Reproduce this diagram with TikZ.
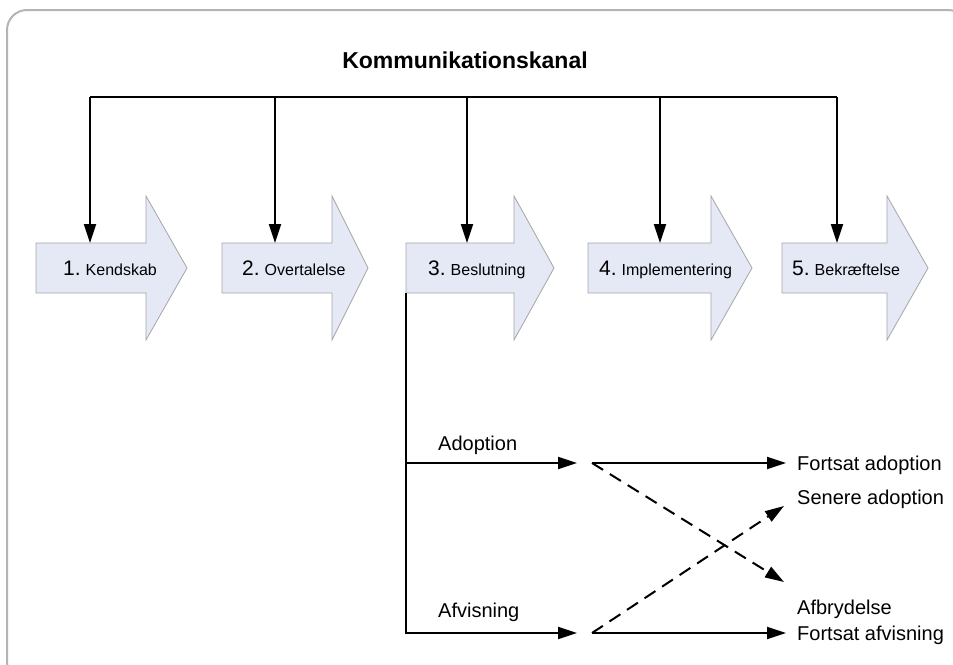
\documentclass[tikz,border=0pt]{standalone}
\usepackage{fontspec}
\setmainfont{Liberation Sans}
\usetikzlibrary{arrows.meta}

\definecolor{stagefill}{HTML}{E4E9F5}
\definecolor{stageline}{HTML}{A6A6A6}
\definecolor{framegray}{HTML}{B4B4B4}

% one stage arrow: left x, head base x, tip x (shaft 243..293, head 196..340)
\newcommand{\stageshape}[3]{%
  \filldraw[stagebody] (#1,243) -- (#2,243) -- (#2,196) -- (#3,268)
    -- (#2,340) -- (#2,293) -- (#1,293) -- cycle;}

\tikzset{
  stagebody/.style={fill=stagefill, draw=stageline, line width=0.8pt},
  stagelabel/.style={anchor=base west, inner sep=0pt, font=\fontsize{16}{16}\selectfont},
  outcome/.style={anchor=base west, inner sep=0pt, font=\fontsize{20}{20}\selectfont},
  choice/.style={anchor=base west, inner sep=0pt, font=\fontsize{20}{20}\selectfont},
  wire/.style={line width=2pt, black},
  feed/.style={wire, -{Triangle[length=19pt, width=12pt]}},
  dashfeed/.style={feed, dash pattern=on 13pt off 8pt},
}
\newcommand{\num}[1]{{\fontsize{21}{21}\selectfont #1}\hspace{5pt}}

\begin{document}
\begin{tikzpicture}[x=1pt, y=-1pt]
  \useasboundingbox (0,0) rectangle (953,664);
  \fill[white] (0,0) rectangle (953,664);

  % outer panel
  \draw[framegray, line width=2pt, rounded corners=20pt] (7,10) rectangle (968,682);

  % title
  \node[inner sep=0pt, font=\bfseries\fontsize{23}{23}\selectfont] (title) at (465,60) {Kommunikationskanal};

  % stage arrows
  \stageshape{36}{146}{187}
  \stageshape{222}{332}{368}
  \stageshape{406}{514}{554}
  \stageshape{588}{711}{752}
  \stageshape{782}{887}{928}

  \node[stagelabel] (s1) at (63,275)  {\num{1.}Kendskab};
  \node[stagelabel] (s2) at (242,275) {\num{2.}Overtalelse};
  \node[stagelabel] (s3) at (428,275) {\num{3.}Beslutning};
  \node[stagelabel] (s4) at (599,275) {\num{4.}Implementering};
  \node[stagelabel] (s5) at (792,275) {\num{5.}Bekræftelse};

  % channel bus and its drops
  \coordinate (k1) at (90,97);
  \coordinate (k2) at (275,97);
  \coordinate (k3) at (467,97);
  \coordinate (k4) at (660,97);
  \coordinate (k5) at (837,97);
  \coordinate (i1) at (90,243);
  \coordinate (i2) at (275,243);
  \coordinate (i3) at (467,243);
  \coordinate (i4) at (660,243);
  \coordinate (i5) at (837,243);
  \draw[wire] (k1) -- (k5);
  \foreach \i in {1,...,5} { \draw[feed] (k\i) -- (i\i); }

  % decision outcomes
  \coordinate (dec) at (406,293);
  \coordinate (adoptfork) at (406,463);
  \coordinate (adoptend) at (577,463);
  \coordinate (rejectend) at (577,633);
  \coordinate (adoptout) at (592,463);
  \coordinate (rejectout) at (592,633);
  \coordinate (fatip) at (786,463);
  \coordinate (satip) at (784,506);
  \coordinate (abtip) at (784,582);
  \coordinate (frtip) at (786,633);

  \node[choice] (adopt)  at (438,450) {Adoption};
  \node[choice] (reject) at (438,617) {Afvisning};

  \node[outcome] (fa) at (797,470) {Fortsat adoption};
  \node[outcome] (sa) at (797,504) {Senere adoption};
  \node[outcome] (ab) at (797,614) {Afbrydelse};
  \node[outcome] (fr) at (797,640) {Fortsat afvisning};

  \draw[feed] (dec) |- (rejectend);
  \draw[feed] (adoptfork) -- (adoptend);
  \draw[feed] (adoptout) -- (fatip);
  \draw[feed] (rejectout) -- (frtip);
  \draw[dashfeed] (adoptout) -- (abtip);
  \draw[dashfeed] (rejectout) -- (satip);
\end{tikzpicture}
\end{document}
